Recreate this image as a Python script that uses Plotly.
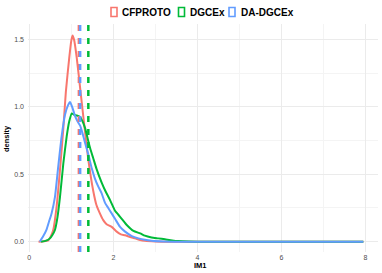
import plotly.graph_objects as go

# ---- data ----
groups = ["CFPROTO", "DGCEx", "DA-DGCEx"]
colors = ["#F8766D", "#00BA38", "#619CFF"]

cf_x = [0.22, 0.35, 0.45, 0.51, 0.57, 0.65, 0.73, 0.81, 0.87, 0.95, 1.00, 1.03, 1.07, 1.13,
        1.22, 1.31, 1.40, 1.52, 1.60, 1.68, 1.76, 1.84, 1.96, 2.08, 2.18, 2.28, 2.40, 2.52,
        2.64, 2.75, 3.0, 3.4, 4.0, 5.0, 6.0, 7.0, 7.95]
cf_y = [0.0, 0.003, 0.01, 0.04, 0.087, 0.26, 0.53, 0.84, 1.11, 1.36, 1.49, 1.527, 1.49, 1.36,
        1.11, 0.86, 0.62, 0.38, 0.27, 0.21, 0.16, 0.13, 0.11, 0.075, 0.055, 0.048, 0.035, 0.025,
        0.013, 0.007, 0.002, 0.0, 0.0, 0.0, 0.0, 0.0, 0.0]

dg_x = [0.28, 0.40, 0.49, 0.55, 0.61, 0.67, 0.73, 0.81, 0.89, 0.95, 1.01, 1.07, 1.13, 1.21,
        1.27, 1.33, 1.40, 1.45, 1.52, 1.60, 1.72, 1.82, 1.92, 2.04, 2.12, 2.20, 2.32, 2.48,
        2.64, 2.75, 2.91, 3.07, 3.23, 3.40, 3.55, 3.8, 4.0, 5.0, 6.0, 7.0, 7.95]
dg_y = [0.0, 0.008, 0.025, 0.05, 0.087, 0.18, 0.33, 0.58, 0.78, 0.89, 0.951, 0.94, 0.935, 0.925,
        0.89, 0.84, 0.75, 0.69, 0.62, 0.54, 0.44, 0.37, 0.31, 0.23, 0.20, 0.17, 0.124, 0.08,
        0.062, 0.045, 0.032, 0.025, 0.018, 0.010, 0.005, 0.001, 0.0, 0.0, 0.0, 0.0, 0.0]

da_x = [0.25, 0.33, 0.41, 0.47, 0.53, 0.61, 0.69, 0.77, 0.85, 0.92, 0.97, 1.03, 1.09, 1.15,
        1.21, 1.27, 1.33, 1.41, 1.49, 1.56, 1.64, 1.72, 1.80, 1.88, 1.96, 2.04, 2.16, 2.28,
        2.44, 2.60, 2.75, 2.91, 3.2, 3.6, 4.0, 5.0, 6.0, 7.0, 7.95]
da_y = [0.0, 0.04, 0.09, 0.15, 0.21, 0.33, 0.56, 0.78, 0.94, 1.01, 1.035, 0.99, 0.93, 0.89,
        0.86, 0.80, 0.73, 0.64, 0.54, 0.47, 0.41, 0.36, 0.29, 0.25, 0.21, 0.17, 0.11, 0.075,
        0.042, 0.025, 0.014, 0.007, 0.002, 0.0005, 0.0, 0.0, 0.0, 0.0, 0.0]

means = [1.18, 1.405, 1.21]

x_ticks = [0, 2, 4, 6, 8]
y_ticks = [0.0, 0.5, 1.0, 1.5]
y_tick_labels = ["0.0", "0.5", "1.0", "1.5"]

# ---- figure ----
W, H = 382, 273
ml, mr, mt, mb = 28, 4, 24, 21
pw, ph = W - ml - mr, H - mt - mb
FONT = "Liberation Sans, Arial"

fig = go.Figure()
series = [(cf_x, cf_y), (dg_x, dg_y), (da_x, da_y)]
for (xs, ys), name, col in zip(series, groups, colors):
    fig.add_trace(go.Scatter(x=xs, y=ys, mode="lines", name=name,
                             line=dict(color=col, width=2, shape="spline", smoothing=0.5),
                             showlegend=False, hoverinfo="skip"))

for m, col in zip(means, colors):
    fig.add_shape(type="line", xref="x", yref="paper", x0=m, x1=m, y0=0, y1=1,
                  line=dict(color=col, width=2.5, dash="6px,7px"), layer="above")


def px2paper_x(px):
    return (px - ml) / pw


def px2paper_y(py):
    return (H - mb - py) / ph


# manual legend (ggplot style, top centre)
box_left = [111, 178.5, 229]
text_left = [119.5, 187.5, 238.5]
for name, col, bl, tl in zip(groups, colors, box_left, text_left):
    fig.add_shape(type="rect", xref="paper", yref="paper",
                  x0=px2paper_x(bl), x1=px2paper_x(bl + 6),
                  y0=px2paper_y(16.5), y1=px2paper_y(7.5),
                  line=dict(color=col, width=1.6), fillcolor="white", layer="above")
    fig.add_annotation(text="<b>" + name + "</b>", xref="paper", yref="paper",
                       x=px2paper_x(tl), y=px2paper_y(12), xanchor="left", yanchor="middle",
                       showarrow=False, font=dict(family=FONT, size=10, color="#000000"))

# axis titles
fig.add_annotation(text="<b>IM1</b>", xref="paper", yref="paper",
                   x=px2paper_x(200.5), y=px2paper_y(265.5), xanchor="center", yanchor="middle",
                   showarrow=False, font=dict(family=FONT, size=7.5, color="#000000"))
fig.add_annotation(text="<b>density</b>", xref="paper", yref="paper", textangle=-90,
                   x=px2paper_x(6), y=px2paper_y(139), xanchor="center", yanchor="middle",
                   showarrow=False, font=dict(family=FONT, size=7.5, color="#000000"))

axis_common = dict(showline=False, zeroline=False, ticks="", automargin=False,
                   gridcolor="#EBEBEB", gridwidth=1,
                   tickfont=dict(family=FONT, size=7, color="#4D4D4D"))

fig.update_xaxes(range=[-0.031, 8.30], tickvals=x_ticks, ticktext=[str(v) for v in x_ticks],
                 minor=dict(dtick=1, tick0=1, showgrid=True, gridcolor="#F4F4F4", gridwidth=0.6),
                 **axis_common)
fig.update_yaxes(range=[-0.076, 1.613], tickvals=y_ticks, ticktext=y_tick_labels,
                 minor=dict(dtick=0.25, tick0=0.25, showgrid=True, gridcolor="#F4F4F4", gridwidth=0.6),
                 ticklabelstandoff=3,
                 **axis_common)

fig.update_layout(width=W, height=H, margin=dict(l=ml, r=mr, t=mt, b=mb, autoexpand=False),
                  plot_bgcolor="white", paper_bgcolor="white", showlegend=False,
                  font=dict(family=FONT))

fig.write_html("out.html", config={"displayModeBar": False},
               post_script="document.body.style.margin='0px';document.body.style.overflow='hidden';")
